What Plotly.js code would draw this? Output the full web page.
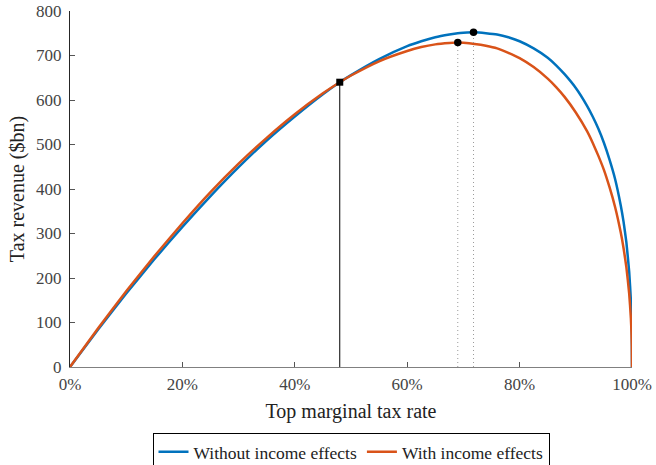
<!DOCTYPE html>
<html>
<head>
<meta charset="utf-8">
<script src="https://cdn.plot.ly/plotly-3.0.1.min.js"></script>
<style>html,body{margin:0;padding:0;background:#fff;}#chart{width:656px;height:465px;}</style>
</head>
<body>
<div id="chart"></div>
<script>
// Top marginal tax rate (%)
const rates = [0, 5, 10, 15, 20, 25, 30, 35, 40, 45, 48, 50, 55, 60, 62.5, 65, 67.5, 69, 70, 72, 74, 76, 78, 80, 82.5, 85, 86.5, 88, 90, 92, 93, 94, 95, 96, 97, 98, 98.5, 99, 99.5, 99.8, 99.9, 99.97, 100];
// Tax revenue ($bn) without income effects
const revenueWithout = [0, 84, 165, 242, 315, 384, 449, 509, 563, 613, 640, 656, 692, 721, 732, 741, 747, 750, 751, 752, 750, 747, 741, 732, 716, 695, 678, 658, 627, 587, 563, 536, 504, 466, 422, 363, 326, 280, 214, 150, 114, 71, 0];
// Tax revenue ($bn) with income effects
const revenueWith = [0, 87, 170, 249, 323, 393, 457, 515, 568, 615, 640, 655, 687, 710, 719, 725, 728, 729, 728.5, 726, 722, 716, 706, 694, 674, 648, 629, 607, 572, 530, 504, 475, 443, 404, 359, 302, 267, 224, 165, 110, 80, 47, 0];

const currentRate = [48];
const currentRevenue = [640];
const peakRates = [71.8, 69];
const peakRevenue = [752, 729];

const seriesNames = ["Without income effects", "With income effects"];
const xTicks = [0, 20, 40, 60, 80, 100];
const yTicks = [0, 100, 200, 300, 400, 500, 600, 700, 800];

const blue = "#0072BD", orange = "#D95319";
const font = "Liberation Serif";

const traces = [
  {x: rates, y: revenueWithout, name: seriesNames[0], mode: "lines", line: {color: blue, width: 2.5, shape: "spline", smoothing: 0.4}},
  {x: rates, y: revenueWith, name: seriesNames[1], mode: "lines", line: {color: orange, width: 2.5, shape: "spline", smoothing: 0.4}},
  {x: [currentRate[0], currentRate[0]], y: [0, currentRevenue[0]], mode: "lines", line: {color: "#000", width: 1}, showlegend: false, hoverinfo: "skip"},
  {x: [peakRates[0], peakRates[0]], y: [0, peakRevenue[0]], mode: "lines", line: {color: "#9a9a9a", width: 1, dash: "1px,3px"}, showlegend: false, hoverinfo: "skip"},
  {x: [peakRates[1], peakRates[1]], y: [0, peakRevenue[1]], mode: "lines", line: {color: "#9a9a9a", width: 1, dash: "1px,3px"}, showlegend: false, hoverinfo: "skip"},
  {x: currentRate, y: currentRevenue, mode: "markers", marker: {symbol: "square", size: 7, color: "#000"}, showlegend: false},
  {x: peakRates, y: peakRevenue, mode: "markers", marker: {symbol: "circle", size: 7.5, color: "#000"}, showlegend: false}
];

const layout = {
  width: 656, height: 465,
  margin: {l: 70, r: 24, t: 11, b: 98, pad: 0},
  paper_bgcolor: "#fff", plot_bgcolor: "#fff",
  font: {family: font, size: 17, color: "#333"},
  showlegend: true,
  legend: {
    orientation: "h", x: 0.5, xanchor: "center", xref: "paper",
    y: 0.069, yanchor: "top", yref: "container",
    bordercolor: "#000", borderwidth: 1, font: {family: font, size: 17.5, color: "#222"},
    traceorder: "normal", tracegroupgap: 0
  },
  xaxis: {
    range: [0, 100], tickvals: xTicks, ticktext: xTicks.map(v => v + "%"),
    ticks: "inside", ticklen: 5, tickcolor: "#555", showgrid: false, zeroline: false,
    showline: true, linecolor: "#808080", linewidth: 1,
    tickfont: {family: font, size: 17, color: "#444"},
    ticklabelstandoff: 2,
    title: {text: "Top marginal tax rate", font: {family: font, size: 20, color: "#222"}, standoff: 10},
    automargin: false,
    fixedrange: true
  },
  yaxis: {
    range: [0, 800], tickvals: yTicks,
    ticks: "inside", ticklen: 5, tickcolor: "#555", showgrid: false, zeroline: false,
    showline: true, linecolor: "#262626", linewidth: 1,
    tickfont: {family: font, size: 17, color: "#444"},
    ticklabelstandoff: 4,
    title: {text: "Tax revenue ($bn)", font: {family: font, size: 20, color: "#222"}, standoff: 6},
    automargin: false,
    fixedrange: true
  }
};

Plotly.newPlot("chart", traces, layout, {staticPlot: true, displayModeBar: false});
</script>
</body>
</html>
